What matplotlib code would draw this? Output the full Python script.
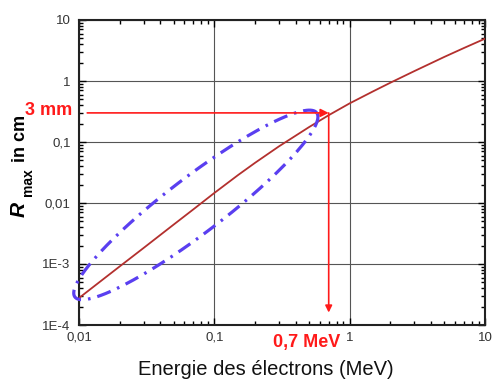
import numpy as np
import matplotlib
matplotlib.use("Agg")
import matplotlib.pyplot as plt
from matplotlib.ticker import FixedLocator, FixedFormatter, LogLocator, NullFormatter

plt.rcParams["font.family"] = ["Liberation Sans", "DejaVu Sans"]

# Range curve: energy (MeV) -> R_max (cm)
energy = [0.01, 0.015, 0.02, 0.03, 0.05, 0.07, 0.1, 0.15, 0.2, 0.3, 0.5, 0.7,
          1.0, 1.5, 2.0, 3.0, 5.0, 7.0, 10.0]
rmax = [2.77e-4, 5.57e-4, 9.14e-4, 1.83e-3, 4.42e-3, 7.87e-3, 0.0146, 0.0288,
        0.0456, 0.0847, 0.175, 0.275, 0.43, 0.682, 0.938, 1.45, 2.48, 3.48, 4.94]

xticks = [0.01, 0.1, 1, 10]
xtick_labels = ["0,01", "0,1", "1", "10"]
yticks = [1e-4, 1e-3, 1e-2, 0.1, 1, 10]
ytick_labels = ["1E-4", "1E-3", "0,01", "0,1", "1", "10"]

# Read-out annotation (3 mm -> 0,7 MeV)
r_mark = 0.3
e_mark = 0.7
arrow_x_start = 0.0115
arrow_y_end = 1.6e-4

# Dash-dot ellipse around the low-energy part (centre in data, size in pixels)
ell_center = (0.073, 0.0093)
ell_semi_major_px = 152
ell_semi_minor_px = 28
ell_angle_deg = 37.3

W, H = 492, 381
fig = plt.figure(figsize=(W / 100, H / 100), dpi=100)
ax_l, ax_r, ax_t, ax_b = 79, 485, 20, 325
ax = fig.add_axes([ax_l / W, 1 - ax_b / H, (ax_r - ax_l) / W, (ax_b - ax_t) / H])
ax.set_xscale("log")
ax.set_yscale("log")
ax.set_xlim(0.01, 10)
ax.set_ylim(1e-4, 10)

ax.grid(True, which="major", color="#555555", linewidth=0.8)
ax.set_axisbelow(True)

ax.plot(energy, rmax, color="#b3302e", linewidth=1.3, zorder=3)

# ellipse: built in pixel space, converted to log decades
sx = (ax_r - ax_l) / 3.0
sy = (ax_b - ax_t) / 5.0
t = np.linspace(0, 2 * np.pi, 300)
a = np.deg2rad(ell_angle_deg)
px = ell_semi_major_px * np.cos(t) * np.cos(a) - ell_semi_minor_px * np.sin(t) * np.sin(a)
py = ell_semi_major_px * np.cos(t) * np.sin(a) + ell_semi_minor_px * np.sin(t) * np.cos(a)
ex = 10 ** (np.log10(ell_center[0]) + px / sx)
ey = 10 ** (np.log10(ell_center[1]) + py / sy)
ax.plot(ex, ey, color="#5a3ff0", linewidth=2.3, dashes=(4.5, 2.2, 0.8, 2.2),
        clip_on=False, zorder=4)

# red read-out arrows
red = "#ff1a1a"
ax.annotate("", xy=(e_mark, r_mark), xytext=(arrow_x_start, r_mark),
            arrowprops=dict(arrowstyle="-|>", color=red, lw=1.2,
                            mutation_scale=12, shrinkA=0, shrinkB=0), zorder=5)
ax.annotate("", xy=(e_mark, arrow_y_end), xytext=(e_mark, r_mark),
            arrowprops=dict(arrowstyle="-|>", color=red, lw=1.2,
                            mutation_scale=10, shrinkA=0, shrinkB=0), zorder=5)

ax.xaxis.set_major_locator(FixedLocator(xticks))
ax.xaxis.set_major_formatter(FixedFormatter(xtick_labels))
ax.yaxis.set_major_locator(FixedLocator(yticks))
ax.yaxis.set_major_formatter(FixedFormatter(ytick_labels))
for axis in (ax.xaxis, ax.yaxis):
    axis.set_minor_locator(LogLocator(base=10, subs=np.arange(2, 10), numticks=20))
    axis.set_minor_formatter(NullFormatter())

ax.tick_params(which="both", direction="in", top=True, right=True, width=1.0,
               labelsize=9.5, labelcolor="#333333")
ax.tick_params(which="major", length=5)
ax.tick_params(which="minor", length=3)
ax.tick_params(axis="x", pad=5)
ax.tick_params(axis="y", pad=6)
for s in ax.spines.values():
    s.set_linewidth(1.5)
    s.set_color("#222222")

# red labels
fig.text(72 / W, 1 - 110 / H, "3 mm", color=red, fontsize=13, fontweight="bold",
         ha="right", va="center")
fig.text(307 / W, 1 - 342.5 / H, "0,7 MeV", color=red, fontsize=13, fontweight="bold",
         ha="center", va="center")

# axis labels
fig.text(266 / W, 1 - 375 / H, "Energie des électrons (MeV)", fontsize=14.5,
         ha="center", va="baseline", color="#111111")
fig.text(25 / W, 1 - 217 / H, "R", fontsize=15, fontweight="bold", style="italic",
         rotation=90, rotation_mode="anchor", ha="left", va="baseline")
fig.text(32 / W, 1 - 196 / H, "max", fontsize=10, fontweight="bold",
         rotation=90, rotation_mode="anchor", ha="left", va="baseline")
fig.text(25 / W, 1 - 162 / H, "in cm", fontsize=13, fontweight="bold",
         rotation=90, rotation_mode="anchor", ha="left", va="baseline")

fig.savefig("out.png", dpi=100)
